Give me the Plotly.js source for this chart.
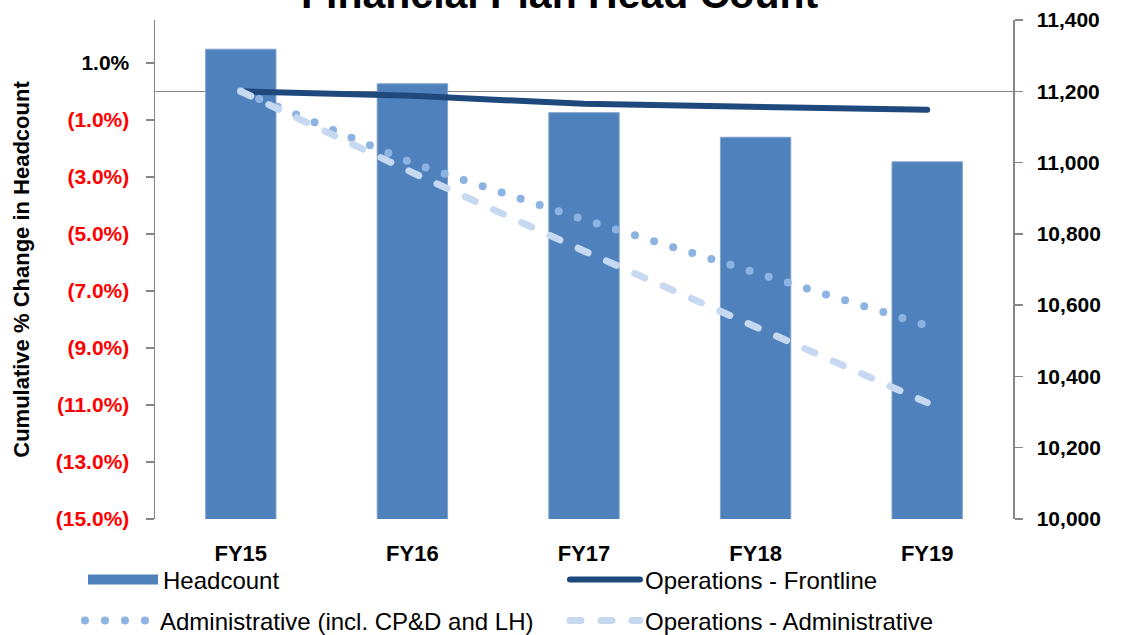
<!DOCTYPE html>
<html><head><meta charset="utf-8">
<script src="https://cdn.plot.ly/plotly-3.0.1.min.js"></script>
<style>
html,body{margin:0;padding:0;background:#fff;}
#chart{width:1121px;height:635px;}
.scatterlayer .js-line, .legend2 .js-line, .legend3 .js-line, .legend4 .js-line {stroke-linecap:round;}
</style></head><body><div id="chart"></div>
<script>
const categories = ['FY15', 'FY16', 'FY17', 'FY18', 'FY19'];
const headcount = [11318, 11221, 11140, 11071, 11002];
const opsFrontline = [0, -0.0016, -0.0044, -0.0055, -0.0065];
const administrative = [0, -0.0252, -0.0450, -0.0636, -0.0822];
const opsAdministrative = [0, -0.0285, -0.0560, -0.0825, -0.1092];
const pctTickVals = [0.01, -0.01, -0.03, -0.05, -0.07, -0.09, -0.11, -0.13, -0.15];
const pctTickText = ['1.0%', '(1.0%)', '(3.0%)', '(5.0%)', '(7.0%)', '(9.0%)', '(11.0%)', '(13.0%)', '(15.0%)'];
const countTickVals = [10000, 10200, 10400, 10600, 10800, 11000, 11200, 11400];
const countTickText = ['10,000', '10,200', '10,400', '10,600', '10,800', '11,000', '11,200', '11,400'];

const FONT = 'Liberation Sans, Arial, sans-serif';
const pctTickLabels = pctTickText.map((t, i) => pctTickVals[i] < 0 ? '<span style="color:#ff0000">' + t + '</span>' : t);

const traces = [
  {type: 'bar', x: categories, y: headcount, yaxis: 'y', name: 'Headcount', showlegend: false,
   marker: {color: '#4f81bd', line: {color: '#7fa3cf', width: 1}}},
  {type: 'scatter', mode: 'lines', x: [null], y: [null], yaxis: 'y', name: 'Headcount', legend: 'legend',
   line: {color: '#4f81bd', width: 16}, hoverinfo: 'skip'},
  {type: 'scatter', mode: 'lines', x: categories, y: opsFrontline, yaxis: 'y2', name: 'Operations - Frontline', legend: 'legend3',
   line: {color: '#1f497d', width: 6}},
  {type: 'scatter', mode: 'lines', x: categories, y: administrative, yaxis: 'y2', name: 'Administrative (incl. CP&D and LH)', legend: 'legend2',
   line: {color: '#8db3e2', width: 8, dash: '0px,20px'}},
  {type: 'scatter', mode: 'lines', x: categories, y: opsAdministrative, yaxis: 'y2', name: 'Operations - Administrative', legend: 'legend4',
   line: {color: '#c6d9f1', width: 7, dash: '11px,20px'}}
];

const legendCommon = {orientation: 'h', xref: 'container', yref: 'container', xanchor: 'left', yanchor: 'middle',
  font: {family: FONT, size: 24, color: '#000'}, itemwidth: 70,
  bgcolor: 'rgba(0,0,0,0)', borderwidth: 0, traceorder: 'normal'};

const layout = {
  width: 1121, height: 635,
  paper_bgcolor: '#fff', plot_bgcolor: '#fff',
  margin: {l: 155, r: 108, t: 20, b: 116},
  font: {family: FONT, color: '#000'},
  annotations: [{text: '<b>Financial Plan Head Count</b>', font: {family: FONT, size: 41, color: '#000'},
          x: 0.472, xref: 'paper', y: 1.052, yref: 'paper', xanchor: 'center', yanchor: 'middle', showarrow: false}],
  bargap: 0.59,
  showlegend: true,
  legend: Object.assign({}, legendCommon, {x: 83 / 1121, y: 1 - 580 / 635}),
  legend3: Object.assign({}, legendCommon, {x: 565 / 1121, y: 1 - 580 / 635}),
  legend2: Object.assign({}, legendCommon, {x: 80 / 1121, y: 1 - 621 / 635}),
  legend4: Object.assign({}, legendCommon, {x: 565 / 1121, y: 1 - 621 / 635}),
  xaxis: {type: 'category', range: [-0.5, 4.5], showline: false, ticks: '', showgrid: false, zeroline: false,
          tickfont: {family: FONT, size: 22, color: '#000', weight: 'bold'}, ticklabelstandoff: 19},
  yaxis2: {overlaying: 'y', side: 'left', range: [-0.15, 0.025], tickmode: 'array', tickvals: pctTickVals, ticktext: pctTickLabels,
          showgrid: false, zeroline: true, zerolinecolor: '#868686', zerolinewidth: 1.5,
          showline: true, linecolor: '#868686', linewidth: 1.5, ticks: 'outside', ticklen: 8, tickcolor: '#868686', tickwidth: 1.5,
          tickfont: {family: FONT, size: 21, color: '#000', weight: 'bold'}, ticklabelstandoff: 12,
          title: {text: '<b>Cumulative % Change in Headcount</b>', font: {family: FONT, size: 22, color: '#000'}, standoff: 20}},
  yaxis: {side: 'right', range: [10000, 11400], tickmode: 'array', tickvals: countTickVals, ticktext: countTickText,
           showgrid: false, zeroline: false, showline: true, linecolor: '#868686', linewidth: 1.5,
           ticks: 'outside', ticklen: 8, tickcolor: '#868686', tickwidth: 1.5,
           tickfont: {family: FONT, size: 21, color: '#000', weight: 'bold'}, ticklabelstandoff: 10}
};

Plotly.newPlot('chart', traces, layout, {displayModeBar: false, staticPlot: true});
</script></body></html>
